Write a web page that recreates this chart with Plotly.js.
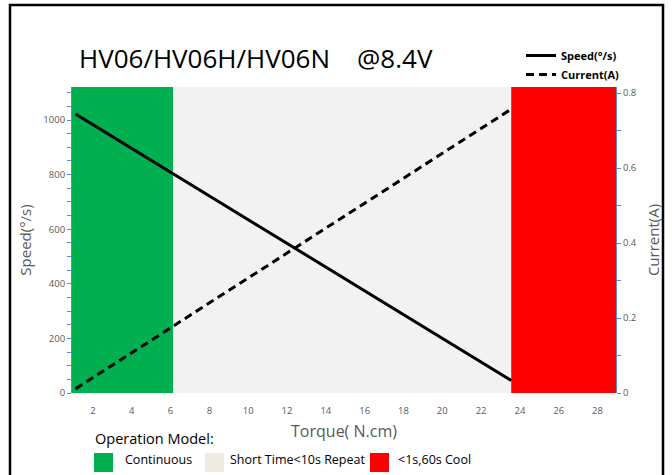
<!DOCTYPE html>
<html>
<head>
<meta charset="utf-8">
<script src="https://cdn.plot.ly/plotly-3.0.1.min.js"></script>
<style>html,body{margin:0;padding:0;background:#fff;}#chart{width:672px;height:475px;}</style>
</head>
<body>
<div id="chart"></div>
<script>
// Data
const torque = [1.1, 23.55];
const speed = [1022, 46];
const current = [0.011, 0.757];
const zoneNames = ["Continuous", "Short Time<10s Repeat", "<1s,60s Cool"];
const zoneStart = [0.92, 6.13, 23.55];
const zoneEnd = [6.13, 23.55, 28.95];
const zoneColors = ["#00b050", "#f2f2f2", "#ff0000"];
const swatchColors = ["#00b050", "#eeece1", "#ff0000"];
const titleText = "HV06/HV06H/HV06N&nbsp;&nbsp;&nbsp;&nbsp;@8.4V";

const traces = [
  {x: torque, y: speed, name: "Speed(°/s)", mode: "lines", yaxis: "y",
   line: {color: "#000", width: 3}},
  {x: torque, y: current, name: "Current(A)", mode: "lines", yaxis: "y2",
   line: {color: "#000", width: 3, dash: "8px,5px"}}
];

const shapes = [];
zoneStart.forEach((s, i) => {
  shapes.push({type: "rect", xref: "x", yref: "paper", x0: s, x1: zoneEnd[i], y0: 0, y1: 1,
    fillcolor: zoneColors[i], line: {width: 0}, layer: "below"});
});
// frame
shapes.push({type: "rect", xref: "paper", yref: "paper",
  x0: (10 - 72) / 544, x1: (663 - 72) / 544, y0: (393 - 490) / 306, y1: (393 - 5) / 306,
  line: {color: "#000", width: 2.5}, fillcolor: "rgba(0,0,0,0)"});

const annotations = [
  {text: titleText, xref: "paper", yref: "paper", x: (77 - 72) / 544, y: (393 - 58) / 306,
   xanchor: "left", yanchor: "middle", showarrow: false,
   font: {family: "Open Sans", size: 26, color: "#000"}},
  {text: "Operation Model:", xref: "paper", yref: "paper", x: (93 - 72) / 544, y: (393 - 438) / 306,
   xanchor: "left", yanchor: "middle", showarrow: false,
   font: {family: "Open Sans", size: 14.5, color: "#000"}}
];
const swX = [94, 205, 370];
const txtX = [123, 228, 396];
zoneNames.forEach((n, i) => {
  shapes.push({type: "rect", xref: "paper", yref: "paper",
    x0: (swX[i] - 72) / 544, x1: (swX[i] + 19 - 72) / 544,
    y0: (393 - 472) / 306, y1: (393 - 453) / 306,
    fillcolor: swatchColors[i], line: {width: 0}});
  annotations.push({text: n, xref: "paper", yref: "paper", x: (txtX[i] - 72) / 544, y: (393 - 459) / 306,
    xanchor: "left", yanchor: "middle", showarrow: false,
    font: {family: "Open Sans", size: 12.5, color: "#000"}});
});

const tickFont = {family: "Open Sans", size: 9.5, color: "#595959"};
const layout = {
  width: 672, height: 475,
  margin: {l: 72, r: 56, t: 87, b: 82},
  paper_bgcolor: "#fff", plot_bgcolor: "#fff",
  showlegend: true,
  legend: {x: (521 - 72) / 544, y: (393 - 41) / 306, xanchor: "left", yanchor: "top",
    font: {family: "Open Sans", size: 11, color: "#000", weight: "bold"},
    bgcolor: "rgba(0,0,0,0)", itemwidth: 30, tracegroupgap: 0},
  xaxis: {range: [0.92, 28.95], tickvals: [2,4,6,8,10,12,14,16,18,20,22,24,26,28],
    showgrid: false, zeroline: false, showline: false, ticks: "",
    tickfont: tickFont, ticklabelstandoff: 10,
    title: {text: "Torque( N.cm)", font: {family: "Open Sans", size: 16, color: "#595959"}, standoff: 10}},
  yaxis: {range: [0, 1121], dtick: 200, showgrid: false, zeroline: false,
    showline: true, linecolor: "#5b8bd0", linewidth: 1,
    ticks: "outside", ticklen: 4, tickcolor: "#5b8bd0",
    minor: {dtick: 50, ticks: "outside", ticklen: 4, tickcolor: "#5b8bd0"},
    tickfont: tickFont,
    title: {text: "Speed(°/s)", font: {family: "Open Sans", size: 15, color: "#595959"}, standoff: 8}},
  yaxis2: {range: [0, 0.816], dtick: 0.2, overlaying: "y", side: "right", showgrid: false, zeroline: false,
    showline: true, linecolor: "#5b8bd0", linewidth: 1,
    ticks: "outside", ticklen: 4, tickcolor: "#5b8bd0",
    minor: {dtick: 0.1, ticks: "outside", ticklen: 4, tickcolor: "#5b8bd0"},
    tickfont: tickFont, tickformat: ".1~f",
    title: {text: "Current(A)", font: {family: "Open Sans", size: 15, color: "#595959"}, standoff: 12}},
  shapes: shapes,
  annotations: annotations
};

Plotly.newPlot("chart", traces, layout, {displayModeBar: false, staticPlot: true});
</script>
</body>
</html>
